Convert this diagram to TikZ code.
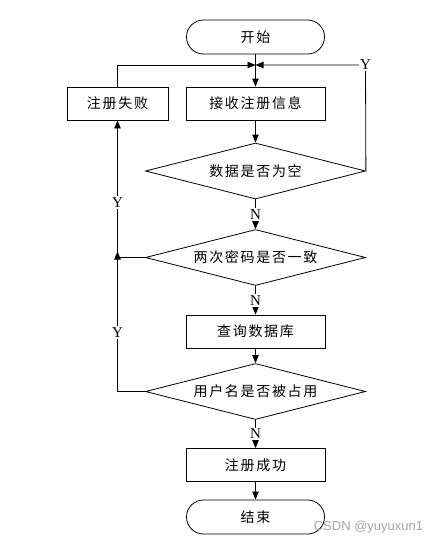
\documentclass[tikz,border=0pt]{standalone}
\usepackage{fontspec}
\setmainfont{Liberation Serif}
\newfontfamily\cjk[LetterSpace=12]{Noto Sans CJK SC}
\newfontfamily\wmfont{Liberation Sans}
\usetikzlibrary{shapes.geometric,arrows.meta}
\definecolor{wmgray}{RGB}{165,165,165}
\begin{document}
\begin{tikzpicture}[x=1pt,y=-1pt,
  line/.style={draw=black, line width=0.8pt},
  arr/.style={line, -{Triangle[length=8pt,width=6.5pt]}},
  cjktext/.style={font=\cjk\fontsize{14}{16}\selectfont},
  term/.style={draw, line width=0.8pt, rounded corners=17pt, minimum width=138pt, minimum height=34pt, cjktext},
  proc/.style={draw, line width=0.8pt, minimum width=139pt, minimum height=33pt, cjktext},
  dec/.style={diamond, draw, line width=0.8pt, aspect=4, inner sep=1pt, minimum width=220pt, minimum height=56pt, cjktext},
  lab/.style={fill=white, inner sep=1.5pt, font=\fontsize{15}{16}\selectfont}]
\useasboundingbox (0,0) rectangle (438,544);
\node[term] (start) at (255.5,37) {开始};
\node[proc] (recv) at (255.5,103.5) {接收注册信息};
\node[proc, minimum width=101pt] (fail) at (117.5,103.5) {注册失败};
\node[dec] (d1) at (255.5,171) {数据是否为空};
\node[dec] (d2) at (255.5,257.5) {两次密码是否一致};
\node[proc] (query) at (255.5,331.5) {查询数据库};
\node[dec] (d3) at (255.5,391.5) {用户名是否被占用};
\node[proc] (ok) at (255.5,465) {注册成功};
\node[term] (end) at (255.5,517) {结束};
\coordinate (J) at (255.5,65);
\coordinate (cY) at (365.5,65);
\coordinate (L2) at (117.5,257.5);
\coordinate (L3) at (117.5,391.5);
\coordinate (Lt) at (117.5,251.5);
% connectors
\draw[line] (start.south) -- (J);
\draw[arr] (J) -- (recv.north);
\draw[arr] (fail.north) |- (J);
\draw[arr] (d1.east) -- (cY) -- (J);
\node[lab] at (cY) {Y};
\draw[arr] (recv.south) -- (d1.north);
\draw[arr] (d1.south) -- node[lab]{N} (d2.north);
\draw[arr] (d2.south) -- node[lab]{N} (query.north);
\draw[arr] (query.south) -- (d3.north);
\draw[arr] (d3.south) -- node[lab]{N} (ok.north);
\draw[arr] (ok.south) -- (end.north);
\draw[arr] (d2.west) -- (L2) -- node[lab, pos=0.4]{Y} (fail.south);
\draw[arr] (d3.west) -- (L3) -- node[lab, pos=0.42]{Y} (Lt);
\node[font=\wmfont\fontsize{13}{14}\selectfont, text=wmgray] (wm) at (368.5,527) {CSDN @yuyuxun1};
\end{tikzpicture}
\end{document}
